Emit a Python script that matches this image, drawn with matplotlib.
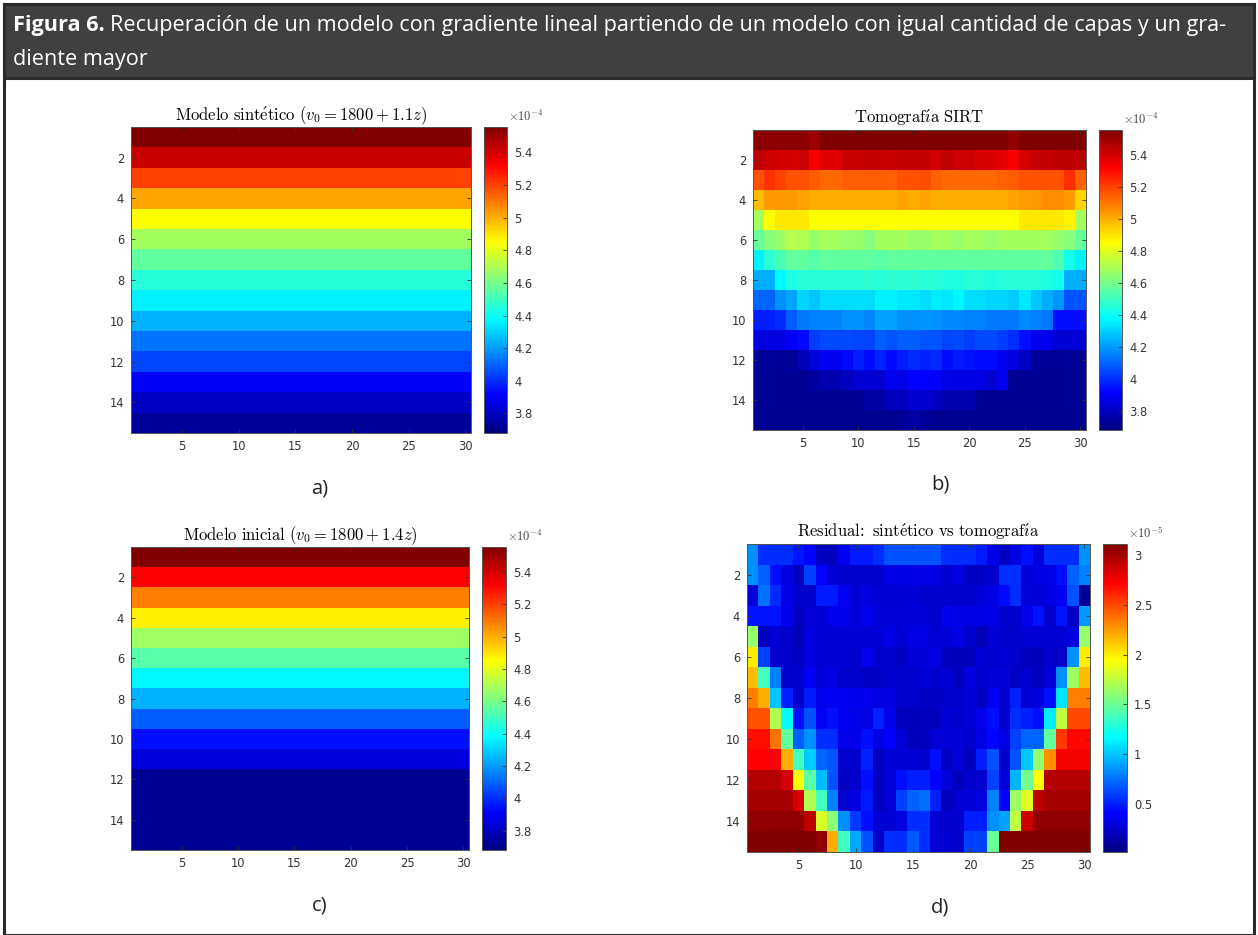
import numpy as np
import matplotlib
matplotlib.use('Agg')
import matplotlib.pyplot as plt
from matplotlib.patches import Rectangle
from matplotlib.colors import LinearSegmentedColormap

plt.rcParams['mathtext.fontset'] = 'cm'

# ---- data (slowness in 1e-4 s/m for a,b,c ; residual in 1e-5 for d) ----
n_cols = 30

# a) synthetic model, one value per layer
sint_layers = [5.55, 5.42, 5.20, 5.02, 4.85, 4.68, 4.56, 4.45, 4.36, 4.24,
               4.13, 4.04, 3.90, 3.81, 3.73]
# c) initial model, one value per layer
ini_layers = [5.55, 5.32, 5.09, 4.88, 4.67, 4.54, 4.37, 4.24, 4.09, 3.94,
              3.85, 3.72, 3.72, 3.72, 3.72]

# b) SIRT tomography
sirt = [
    [5.53, 5.53, 5.53, 5.53, 5.53, 5.50, 5.55, 5.55, 5.55, 5.55, 5.55, 5.55, 5.55, 5.55, 5.55,
     5.55, 5.55, 5.55, 5.55, 5.55, 5.55, 5.55, 5.55, 5.52, 5.55, 5.55, 5.55, 5.55, 5.55, 5.55],
    [5.44, 5.42, 5.40, 5.40, 5.42, 5.33, 5.38, 5.38, 5.42, 5.42, 5.43, 5.43, 5.42, 5.43, 5.43,
     5.43, 5.40, 5.44, 5.41, 5.41, 5.39, 5.39, 5.37, 5.33, 5.40, 5.43, 5.43, 5.44, 5.44, 5.44],
    [5.17, 5.23, 5.20, 5.17, 5.17, 5.15, 5.13, 5.13, 5.15, 5.15, 5.15, 5.15, 5.14, 5.17, 5.17,
     5.18, 5.14, 5.13, 5.13, 5.13, 5.13, 5.13, 5.14, 5.15, 5.17, 5.17, 5.17, 5.17, 5.24, 5.14],
    [4.97, 5.04, 5.04, 5.04, 5.02, 5.00, 5.00, 5.00, 5.00, 5.00, 5.00, 5.00, 5.00, 5.02, 5.00,
     5.02, 5.00, 5.00, 5.00, 5.00, 5.00, 5.00, 5.00, 5.02, 5.03, 5.04, 5.06, 5.06, 5.03, 4.93],
    [4.68, 4.85, 4.89, 4.89, 4.89, 4.85, 4.85, 4.85, 4.85, 4.85, 4.85, 4.85, 4.85, 4.85, 4.85,
     4.85, 4.85, 4.85, 4.85, 4.85, 4.85, 4.85, 4.85, 4.85, 4.89, 4.89, 4.89, 4.89, 4.87, 4.68],
    [4.57, 4.63, 4.66, 4.72, 4.70, 4.66, 4.68, 4.68, 4.66, 4.66, 4.63, 4.68, 4.68, 4.68, 4.66,
     4.66, 4.68, 4.68, 4.66, 4.68, 4.68, 4.66, 4.68, 4.68, 4.68, 4.68, 4.68, 4.66, 4.63, 4.57],
    [4.36, 4.47, 4.52, 4.56, 4.56, 4.54, 4.56, 4.56, 4.56, 4.56, 4.56, 4.55, 4.56, 4.56, 4.56,
     4.56, 4.56, 4.56, 4.56, 4.56, 4.56, 4.56, 4.56, 4.56, 4.56, 4.56, 4.56, 4.53, 4.42, 4.36],
    [4.23, 4.23, 4.37, 4.44, 4.45, 4.46, 4.46, 4.46, 4.46, 4.46, 4.47, 4.45, 4.47, 4.47, 4.47,
     4.46, 4.46, 4.44, 4.44, 4.46, 4.46, 4.44, 4.45, 4.46, 4.46, 4.45, 4.44, 4.42, 4.23, 4.23],
    [4.10, 4.10, 4.18, 4.22, 4.31, 4.28, 4.32, 4.32, 4.32, 4.32, 4.32, 4.36, 4.36, 4.34, 4.34,
     4.32, 4.35, 4.34, 4.37, 4.32, 4.32, 4.31, 4.31, 4.29, 4.34, 4.28, 4.23, 4.19, 4.07, 4.07],
    [3.97, 3.97, 4.00, 4.09, 4.14, 4.15, 4.15, 4.15, 4.18, 4.18, 4.17, 4.21, 4.21, 4.18, 4.18,
     4.19, 4.18, 4.17, 4.17, 4.15, 4.15, 4.14, 4.14, 4.14, 4.17, 4.15, 4.14, 3.94, 3.94, 3.94],
    [3.86, 3.86, 3.86, 3.90, 3.93, 4.03, 4.05, 4.05, 4.05, 4.04, 4.04, 4.09, 4.07, 4.09, 4.09,
     4.07, 4.07, 4.04, 4.05, 4.03, 4.05, 4.05, 4.03, 4.00, 3.94, 3.88, 3.88, 3.84, 3.84, 3.84],
    [3.73, 3.73, 3.73, 3.73, 3.79, 3.85, 3.89, 3.89, 3.93, 3.97, 3.93, 3.98, 3.93, 3.96, 3.99,
     3.98, 3.99, 3.93, 3.96, 3.95, 3.93, 3.93, 3.88, 3.86, 3.80, 3.73, 3.73, 3.73, 3.72, 3.72],
    [3.72, 3.72, 3.72, 3.72, 3.72, 3.74, 3.77, 3.77, 3.80, 3.84, 3.84, 3.83, 3.89, 3.87, 3.92,
     3.92, 3.91, 3.87, 3.87, 3.87, 3.87, 3.83, 3.89, 3.72, 3.72, 3.72, 3.72, 3.72, 3.72, 3.72],
    [3.72, 3.72, 3.72, 3.72, 3.72, 3.72, 3.72, 3.72, 3.72, 3.72, 3.75, 3.75, 3.79, 3.80, 3.83,
     3.83, 3.80, 3.77, 3.77, 3.77, 3.72, 3.72, 3.72, 3.72, 3.72, 3.72, 3.72, 3.72, 3.72, 3.72],
    [3.71, 3.71, 3.71, 3.71, 3.71, 3.71, 3.71, 3.71, 3.71, 3.71, 3.71, 3.71, 3.71, 3.73, 3.75,
     3.73, 3.71, 3.71, 3.71, 3.71, 3.71, 3.71, 3.71, 3.71, 3.71, 3.71, 3.71, 3.71, 3.71, 3.71],
]

# d) residual synthetic vs tomography
resid = [
    [0.85, 0.55, 0.55, 0.55, 0.47, 0.41, 0.22, 0.22, 0.36, 0.48, 0.48, 0.55, 0.65, 0.65, 0.65,
     0.65, 0.65, 0.55, 0.55, 0.55, 0.48, 0.33, 0.22, 0.33, 0.45, 0.29, 0.54, 0.54, 0.54, 0.85],
    [0.85, 0.70, 0.45, 0.32, 0.22, 0.60, 0.41, 0.29, 0.25, 0.25, 0.25, 0.27, 0.33, 0.33, 0.33,
     0.31, 0.31, 0.27, 0.31, 0.23, 0.23, 0.25, 0.55, 0.55, 0.29, 0.33, 0.33, 0.45, 0.70, 0.80],
    [0.29, 0.75, 0.53, 0.33, 0.26, 0.26, 0.49, 0.49, 0.38, 0.28, 0.31, 0.28, 0.28, 0.28, 0.28,
     0.25, 0.25, 0.26, 0.26, 0.26, 0.29, 0.33, 0.44, 0.55, 0.29, 0.29, 0.31, 0.36, 0.65, 0.10],
    [0.46, 0.46, 0.46, 0.35, 0.22, 0.28, 0.28, 0.35, 0.35, 0.29, 0.35, 0.29, 0.29, 0.29, 0.29,
     0.29, 0.25, 0.35, 0.33, 0.33, 0.33, 0.33, 0.25, 0.25, 0.35, 0.46, 0.25, 0.46, 0.23, 0.87],
    [1.63, 0.22, 0.28, 0.26, 0.20, 0.31, 0.28, 0.28, 0.28, 0.28, 0.28, 0.28, 0.33, 0.28, 0.33,
     0.31, 0.28, 0.29, 0.33, 0.26, 0.20, 0.28, 0.25, 0.25, 0.28, 0.28, 0.28, 0.28, 0.31, 1.63],
    [2.00, 0.60, 0.26, 0.26, 0.23, 0.31, 0.28, 0.28, 0.28, 0.25, 0.35, 0.25, 0.25, 0.23, 0.29,
     0.29, 0.31, 0.21, 0.21, 0.21, 0.28, 0.25, 0.29, 0.25, 0.21, 0.21, 0.25, 0.25, 0.85, 2.00],
    [2.15, 1.38, 0.80, 0.25, 0.25, 0.38, 0.29, 0.33, 0.26, 0.26, 0.23, 0.23, 0.26, 0.26, 0.26,
     0.29, 0.25, 0.28, 0.21, 0.31, 0.26, 0.29, 0.29, 0.23, 0.26, 0.21, 0.28, 0.85, 1.65, 2.15],
    [2.34, 2.20, 1.00, 0.51, 0.26, 0.49, 0.35, 0.38, 0.38, 0.35, 0.35, 0.31, 0.31, 0.25, 0.25,
     0.23, 0.23, 0.26, 0.26, 0.29, 0.23, 0.37, 0.26, 0.51, 0.28, 0.31, 0.45, 1.10, 2.34, 2.34],
    [2.48, 2.48, 1.70, 1.18, 0.45, 0.65, 0.38, 0.45, 0.38, 0.33, 0.33, 0.51, 0.35, 0.21, 0.21,
     0.21, 0.21, 0.28, 0.25, 0.29, 0.35, 0.45, 0.26, 0.55, 0.50, 0.45, 1.12, 1.75, 2.50, 2.50],
    [2.68, 2.68, 2.38, 1.48, 0.70, 0.85, 0.55, 0.55, 0.35, 0.35, 0.45, 0.33, 0.40, 0.28, 0.21,
     0.21, 0.28, 0.29, 0.29, 0.25, 0.33, 0.43, 0.31, 0.60, 0.72, 0.72, 1.48, 2.55, 2.70, 2.70],
    [2.72, 2.72, 2.72, 2.20, 1.38, 1.03, 0.72, 0.65, 0.25, 0.25, 0.51, 0.21, 0.29, 0.28, 0.28,
     0.25, 0.45, 0.23, 0.29, 0.21, 0.50, 0.65, 0.25, 0.65, 1.01, 1.62, 2.28, 2.75, 2.75, 2.75],
    [2.95, 2.95, 2.95, 2.85, 1.92, 1.45, 0.98, 0.65, 0.23, 0.27, 0.45, 0.21, 0.29, 0.45, 0.50,
     0.50, 0.41, 0.29, 0.21, 0.26, 0.27, 0.60, 0.30, 0.95, 1.52, 1.95, 2.95, 2.95, 2.95, 2.95],
    [3.00, 3.00, 3.00, 3.00, 2.85, 1.70, 1.38, 0.80, 0.27, 0.31, 0.48, 0.21, 0.28, 0.60, 0.70,
     0.75, 0.51, 0.21, 0.28, 0.29, 0.31, 0.80, 0.38, 1.65, 1.85, 2.92, 3.00, 3.00, 3.00, 3.00],
    [3.05, 3.05, 3.05, 3.05, 3.05, 2.92, 1.82, 1.60, 0.85, 0.58, 0.45, 0.28, 0.28, 0.31, 0.55,
     0.55, 0.28, 0.25, 0.27, 0.50, 0.50, 0.85, 0.90, 1.75, 2.88, 3.05, 3.05, 3.05, 3.05, 3.05],
    [3.11, 3.11, 3.11, 3.11, 3.11, 3.11, 3.05, 2.20, 1.38, 0.92, 0.65, 0.25, 0.55, 0.55, 0.68,
     0.55, 0.28, 0.28, 0.25, 0.60, 0.60, 1.50, 3.11, 3.11, 3.11, 3.11, 3.11, 3.11, 3.11, 3.11],
]

slow_min, slow_max = 3.68, 5.556     # colour limits, x1e-4
res_min, res_max = 0.02, 3.11        # colour limits, x1e-5
slow_ticks = [3.8, 4, 4.2, 4.4, 4.6, 4.8, 5, 5.2, 5.4]
res_ticks = [0.5, 1, 1.5, 2, 2.5, 3]

titles = [r'$\mathrm{Modelo\ sint\acute{e}tico}\ (v_0 = 1800 + 1.1z)$',
          r'$\mathrm{Tomograf\acute{\imath}a\ SIRT}$',
          r'$\mathrm{Modelo\ inicial}\ (v_0 = 1800 + 1.4z)$',
          r'$\mathrm{Residual}\!:\ \mathrm{sint\acute{e}tico\ vs\ tomograf\acute{\imath}a}$']
sub_labels = ['a)', 'b)', 'c)', 'd)']
caption_bold = 'Figura 6.'
caption_l1 = 'Recuperación de un modelo con gradiente lineal partiendo de un modelo con igual cantidad de capas y un gra-'
caption_l2 = 'diente mayor'

# MATLAB style jet
mjet = LinearSegmentedColormap.from_list(
    'mjet', [(0, '#000080'), (0.125, '#0000ff'), (0.375, '#00ffff'),
             (0.625, '#ffff00'), (0.875, '#ff0000'), (1, '#800000')], N=256)

W, H = 1258, 935
fig = plt.figure(figsize=(W / 100, H / 100), dpi=100)


def px(x0, y0, x1, y1):
    return [x0 / W, 1 - y1 / H, (x1 - x0) / W, (y1 - y0) / H]


# frame and caption band (behind the axes)
fig.add_artist(Rectangle((4 / W, 0), (W - 8) / W, 1 - 4 / H, transform=fig.transFigure,
                         facecolor='white', edgecolor='#2b2b2b', lw=2.2, zorder=-10))
fig.add_artist(Rectangle((4 / W, 1 - 78 / H), (W - 8) / W, 74 / H, transform=fig.transFigure,
                         facecolor='#404040', edgecolor='#2b2b2b', lw=2.2, zorder=-9))
cap_font = ['Open Sans', 'DejaVu Sans']
cap_size = 15.6
t1 = fig.text(13 / W, 1 - 26 / H, caption_bold, color='white', fontsize=cap_size, fontweight='bold',
              family=cap_font, va='center')
fig.canvas.draw()
bb = t1.get_window_extent()
fig.text((bb.x1 + 5) / W, 1 - 26 / H, caption_l1, color='white', fontsize=cap_size,
         family=cap_font, va='center')
fig.text(13 / W, 1 - 60 / H, caption_l2, color='white', fontsize=cap_size, family=cap_font,
         va='center')

boxes = [((131, 127, 471, 433), (484, 507)),
         ((753, 130, 1086, 430), (1099, 1122)),
         ((131, 547, 469, 850), (482, 506)),
         ((747, 544, 1090, 852), (1103, 1127))]
label_pos = [(320, 488), (940, 485), (320, 906), (940, 908)]

grids = [np.tile(np.array(sint_layers)[:, None], (1, n_cols)) * 1e-4,
         np.array(sirt) * 1e-4,
         np.tile(np.array(ini_layers)[:, None], (1, n_cols)) * 1e-4,
         np.array(resid) * 1e-5]
limits = [(slow_min * 1e-4, slow_max * 1e-4)] * 3 + [(res_min * 1e-5, res_max * 1e-5)]
cticks = [slow_ticks] * 3 + [res_ticks]
scales = [1e-4, 1e-4, 1e-4, 1e-5]
expo = ['-4', '-4', '-4', '-5']
tick_col = '#333333'

for i in range(4):
    (x0, y0, x1, y1), (cx0, cx1) = boxes[i]
    ax = fig.add_axes(px(x0, y0, x1, y1))
    im = ax.pcolormesh(np.arange(0.5, n_cols + 1), np.arange(0.5, 16), grids[i],
                       cmap=mjet, vmin=limits[i][0], vmax=limits[i][1], shading='flat')
    ax.set_xlim(0.5, 30.5)
    ax.set_ylim(15.5, 0.5)
    ax.set_xticks([5, 10, 15, 20, 25, 30])
    ax.set_yticks([2, 4, 6, 8, 10, 12, 14])
    ax.tick_params(direction='in', length=3, width=0.6, top=True, right=True,
                   labelsize=8.3, colors=tick_col, pad=5)
    for s in ax.spines.values():
        s.set_color('#555555')
        s.set_linewidth(0.7)
    ax.set_title(titles[i], fontsize=12, pad=5)

    cax = fig.add_axes(px(cx0, y0, cx1, y1))
    cb = fig.colorbar(im, cax=cax)
    cb.set_ticks([t * scales[i] for t in cticks[i]])
    cb.set_ticklabels(['%g' % t for t in cticks[i]])
    cax.tick_params(direction='in', length=3, width=0.6, labelsize=8.3, colors=tick_col, pad=5)
    cb.outline.set_edgecolor('#555555')
    cb.outline.set_linewidth(0.7)
    cax.text(1.05, 1.01, r'$\times\mathsf{10^{%s}}$' % expo[i], transform=cax.transAxes,
             fontsize=9, color='#444444', ha='left', va='bottom')

    lx, ly = label_pos[i]
    fig.text(lx / W, 1 - ly / H, sub_labels[i], fontsize=14.5, family=cap_font,
             ha='center', va='center', color='#222222')

fig.savefig('out.png', dpi=100)
